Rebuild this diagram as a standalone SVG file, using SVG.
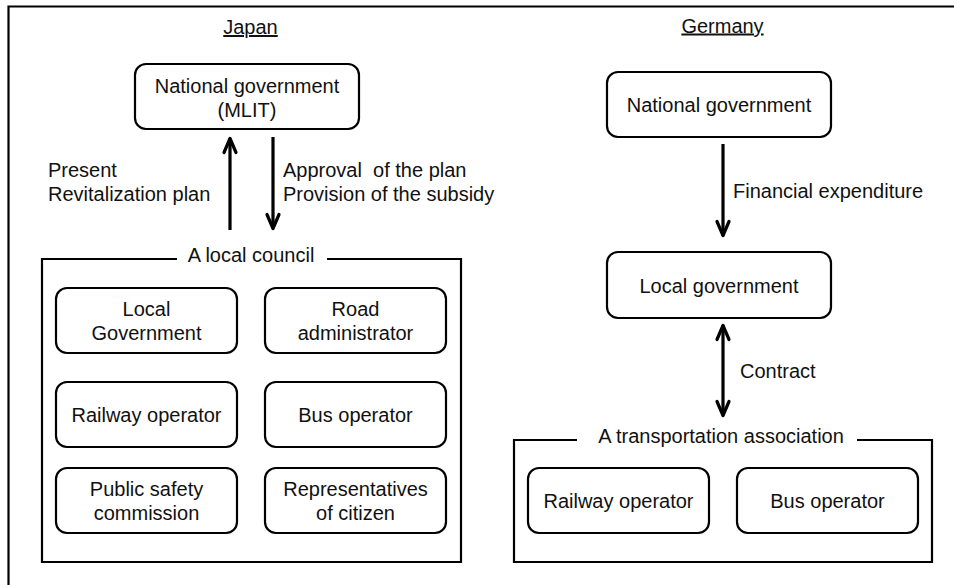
<svg xmlns="http://www.w3.org/2000/svg" width="954" height="585" viewBox="0 0 954 585">
<defs>
<style>
text{font-family:"Liberation Sans",Arial,Helvetica,sans-serif;font-size:20px;fill:#111;}
.c{text-anchor:middle;}
.box{fill:#fff;stroke:#000;stroke-width:2.2;}
.frame{fill:none;stroke:#000;stroke-width:2.2;}
.arr{fill:none;stroke:#000;stroke-width:3.2;}
.u{text-decoration:underline;}
</style>
<marker id="ah" markerUnits="userSpaceOnUse" markerWidth="20" markerHeight="20" refX="0" refY="0" orient="auto-start-reverse" overflow="visible">
<path d="M-14,-6 L0,0 L-14,6" fill="none" stroke="#000" stroke-width="3.2" stroke-linejoin="round" stroke-linecap="round"/>
</marker>
</defs>
<rect width="954" height="585" fill="#fff"/>
<path class="frame" d="M8.5,590 V6.5 H960"/>

<text class="c u" x="250.5" y="34">Japan</text>
<text class="c u" x="722.5" y="32.5">Germany</text>

<g id="japan-national">
<rect class="box" x="135" y="64" width="224" height="65" rx="11"/>
<text class="c" x="247" y="93">National government</text>
<text class="c" x="247" y="117">(MLIT)</text>
</g>

<g id="local-council">
<path class="frame" d="M177,259 H42 V562 H461 V259 H327"/>
<text class="c" x="251" y="262">A local council</text>
</g>
<g id="jp-local-gov"><rect class="box" x="56" y="288" width="181" height="65" rx="11"/><text class="c" x="146.5" y="316">Local</text><text class="c" x="146.5" y="340">Government</text></g>
<g id="jp-road"><rect class="box" x="265" y="288" width="181" height="65" rx="11"/><text class="c" x="355.5" y="316">Road</text><text class="c" x="355.5" y="340">administrator</text></g>
<g id="jp-railway"><rect class="box" x="56" y="382" width="181" height="65" rx="11"/><text class="c" x="146.5" y="422">Railway operator</text></g>
<g id="jp-bus"><rect class="box" x="265" y="382" width="181" height="65" rx="11"/><text class="c" x="355.5" y="422">Bus operator</text></g>
<g id="jp-safety"><rect class="box" x="56" y="468" width="181" height="65" rx="11"/><text class="c" x="146.5" y="496">Public safety</text><text class="c" x="146.5" y="520">commission</text></g>
<g id="jp-citizen"><rect class="box" x="265" y="468" width="181" height="65" rx="11"/><text class="c" x="355.5" y="496">Representatives</text><text class="c" x="355.5" y="520">of citizen</text></g>

<g id="de-national">
<rect class="box" x="607" y="72" width="224" height="65" rx="11"/>
<text class="c" x="719" y="112">National government</text>
</g>
<g id="de-local">
<rect class="box" x="607" y="252" width="224" height="66" rx="11"/>
<text class="c" x="719" y="293">Local government</text>
</g>
<g id="transport-association">
<path class="frame" d="M577,440 H514 V562 H932 V440 H857"/>
<text class="c" x="721" y="443">A transportation association</text>
</g>
<g id="de-railway"><rect class="box" x="528" y="468" width="181" height="65" rx="11"/><text class="c" x="618.5" y="508">Railway operator</text></g>
<g id="de-bus"><rect class="box" x="737" y="468" width="181" height="65" rx="11"/><text class="c" x="827.5" y="508">Bus operator</text></g>

<g id="connectors">
<path class="arr" d="M230,230 V138.5" marker-end="url(#ah)"/>
<path class="arr" d="M273,137 V228.5" marker-end="url(#ah)"/>
<path class="arr" d="M723,144 V235.5" marker-end="url(#ah)"/>
<path class="arr" d="M723,325.5 V415.5" marker-start="url(#ah)" marker-end="url(#ah)"/>
<text x="48" y="177">Present</text>
<text x="48" y="201">Revitalization plan</text>
<text x="283" y="177" xml:space="preserve">Approval  of the plan</text>
<text x="283" y="201">Provision of the subsidy</text>
<text x="733" y="198">Financial expenditure</text>
<text x="740" y="378">Contract</text>
</g>
</svg>
